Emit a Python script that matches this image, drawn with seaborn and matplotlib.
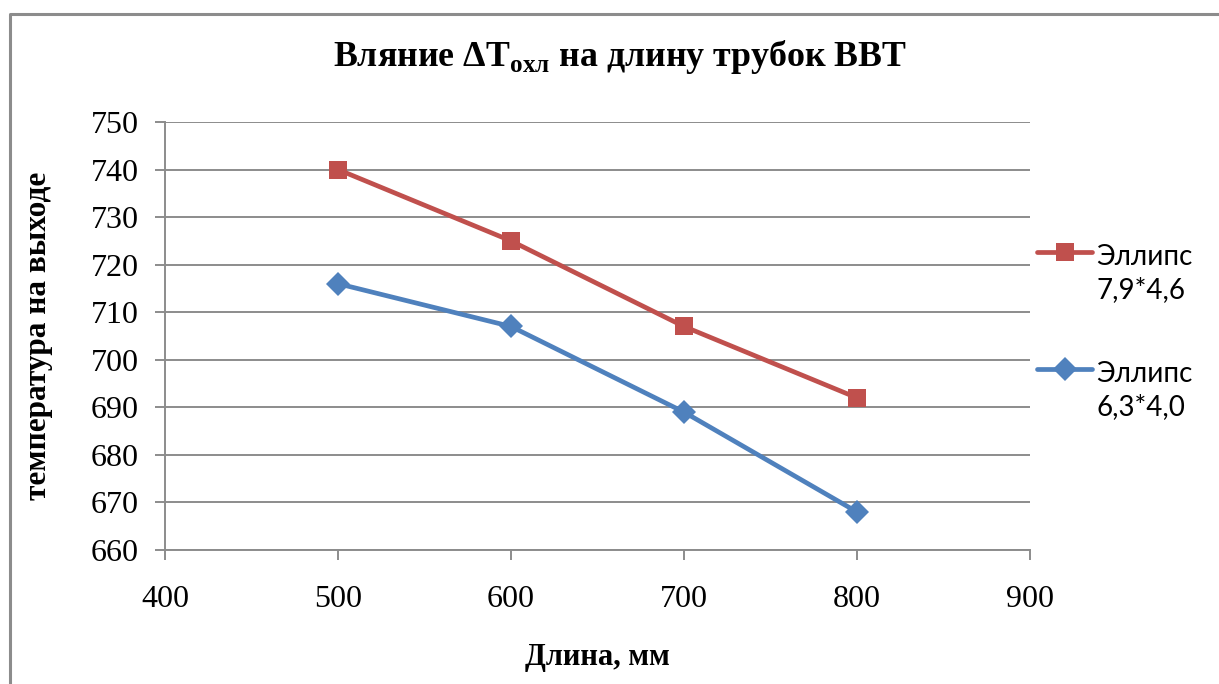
import matplotlib
matplotlib.use("Agg")
import matplotlib.pyplot as plt
from matplotlib.lines import Line2D
from matplotlib.legend_handler import HandlerLine2D
import seaborn as sns
import pandas as pd
import numpy as np

# Tube length (mm) and outlet temperature for the two elliptical tube sizes
lengths = [500, 600, 700, 800]
temp_79x46 = [740, 725, 707, 692]
temp_63x40 = [716, 707, 689, 668]
series_names = ["Эллипс\n7,9*4,6", "Эллипс\n6,3*4,0"]
x_ticks = [400, 500, 600, 700, 800, 900]
y_ticks = [660, 670, 680, 690, 700, 710, 720, 730, 740, 750]

df = pd.DataFrame({
    "length": lengths * 2,
    "temp": temp_79x46 + temp_63x40,
    "series": [series_names[0]] * len(lengths) + [series_names[1]] * len(lengths),
})

sns.set_theme(style="white")
plt.rcParams["font.family"] = ["Liberation Serif", "DejaVu Serif"]
plt.rcParams["text.color"] = "black"
plt.rcParams["axes.labelcolor"] = "black"
plt.rcParams["mathtext.fontset"] = "custom"
plt.rcParams["mathtext.rm"] = "Liberation Serif:bold"

RED = "#C0504D"
BLUE = "#4F81BD"
LW = 3.4

fig = plt.figure(figsize=(12.19, 6.84), dpi=100)
ax = fig.add_axes([165 / 1219, 1 - 550 / 684, (1030 - 165) / 1219, (550 - 122) / 684])

palette = {series_names[0]: RED, series_names[1]: BLUE}
markers = {series_names[0]: "s", series_names[1]: "D"}
sns.lineplot(data=df, x="length", y="temp", hue="series", style="series",
             palette=palette, markers=markers, dashes=False,
             linewidth=LW, markersize=12.5, markeredgewidth=0, ax=ax,
             legend=False, zorder=3)
for line in ax.lines:
    if line.get_marker() == "D":
        line.set_markersize(12)

grid_color = "#8C8C8C"
ax.set_xlim(400, 900)
ax.set_ylim(660, 750)
ax.set_xticks(x_ticks)
ax.set_yticks(y_ticks)
ax.yaxis.grid(True, color=grid_color, linewidth=1.4)
ax.xaxis.grid(False)
ax.set_axisbelow(True)
for side in ["top", "right"]:
    ax.spines[side].set_visible(False)
for side in ["left", "bottom"]:
    ax.spines[side].set_color(grid_color)
    ax.spines[side].set_linewidth(1.4)
ax.tick_params(axis="both", which="major", direction="out", length=7,
               width=1.4, color=grid_color, labelsize=23, labelcolor="black",
               bottom=True, left=True)
ax.tick_params(axis="y", pad=12)
ax.tick_params(axis="x", pad=18)

ax.set_xlabel("Длина, мм", fontsize=22, fontweight="bold", labelpad=21)
ax.set_ylabel("температура на выходе", fontsize=22.5, fontweight="bold", labelpad=27)

fig.text(620 / 1219, 1 - 57 / 684,
         r"Вляние ΔT$_{\mathregular{охл}}$ на длину трубок ВВТ",
         ha="center", va="center", fontsize=25.8, fontweight="bold")


class FirstLineHandler(HandlerLine2D):
    """Line handler that sits level with the first line of a two-line label."""

    def __init__(self, shift, **kw):
        super().__init__(**kw)
        self.shift = shift

    def create_artists(self, legend, orig_handle, xdescent, ydescent,
                       width, height, fontsize, trans):
        artists = super().create_artists(legend, orig_handle, xdescent, ydescent,
                                         width, height, fontsize, trans)
        for a in artists:
            a.set_ydata(np.asarray(a.get_ydata()) + self.shift)
        return artists


LEG_FS = 20
LINE_SP = 1.33
handles = [
    Line2D([], [], color=RED, lw=LW, marker="s", markersize=12.5, markeredgewidth=0),
    Line2D([], [], color=BLUE, lw=LW, marker="D", markersize=12, markeredgewidth=0),
]
shift = 0.5 * LEG_FS * LINE_SP * 1.2
leg = fig.legend(handles, series_names, loc="upper left",
                 bbox_to_anchor=(1026 / 1219, 1 - 233 / 684),
                 frameon=False, prop={"family": "Lato", "size": LEG_FS},
                 handlelength=1.98, handletextpad=0.15, labelspacing=2.08,
                 borderaxespad=0,
                 handler_map={h: FirstLineHandler(shift) for h in handles})
for t in leg.get_texts():
    t.set_linespacing(LINE_SP)

# outer frame lines of the chart area
border = "#8C8C8C"
fx = 9.5 / 1219
fy = 1 - 13.5 / 684
fig.add_artist(Line2D([fx, fx, 1.0], [0.0, fy, fy], transform=fig.transFigure,
                      color=border, linewidth=2.2))

fig.savefig("out.png", dpi=100)
